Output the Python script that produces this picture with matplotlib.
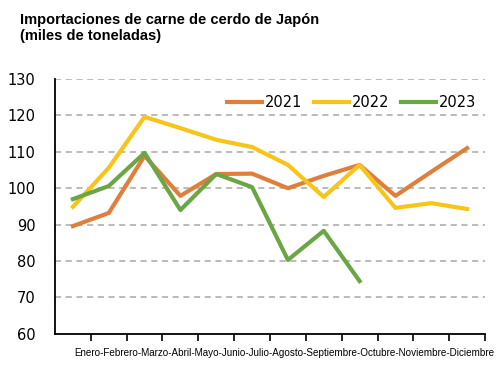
import matplotlib
matplotlib.use("Agg")
import matplotlib.pyplot as plt
import numpy as np

# month names, joined into one label under the axis
months = ["Enero", "Febrero", "Marzo", "Abril", "Mayo", "Junio", "Julio",
          "Agosto", "Septiembre", "Octubre", "Noviembre", "Diciembre"]

# imports, thousand tonnes
y2021 = [89.6, 93.2, 108.9, 97.9, 103.9, 104.0, 100.0, 103.4, 106.4, 97.9, 104.5, 111.0]
y2022 = [94.9, 105.6, 119.6, 116.5, 113.3, 111.3, 106.4, 97.6, 106.4, 94.6, 95.9, 94.3]
y2023 = [97.0, 100.6, 109.7, 94.0, 103.9, 100.3, 80.3, 88.3, 74.5]

yticks = [60, 70, 80, 90, 100, 110, 120, 130]

fig = plt.figure(figsize=(5, 3.76), dpi=100)
ax = fig.add_axes([0.11, 0.112, 0.86, 0.678])

x = np.arange(len(months))
ax.plot(x, y2021, color="#E07E3C", lw=3, label="2021")
ax.plot(x, y2022, color="#F7C41A", lw=3, label="2022")
ax.plot(np.arange(len(y2023)), y2023, color="#6BA644", lw=3, label="2023")

ax.set_xlim(-0.5, 11.5)
ax.set_ylim(60, 130)
ax.set_yticks(yticks)
ax.set_yticklabels([str(t) for t in yticks], fontsize=10.5)
ax.set_xticks(np.arange(0.5, 12, 1))
ax.set_xticklabels([])
ax.tick_params(axis="x", length=5, width=1.2, direction="out")
ax.tick_params(axis="y", length=0, pad=14)

for t in yticks[1:]:
    ax.axhline(t, color="#a8a8a8", lw=1.1, ls=(0, (4, 3)), zorder=0)

for s in ["top", "right"]:
    ax.spines[s].set_visible(False)
ax.spines["left"].set_linewidth(1.3)
ax.spines["bottom"].set_linewidth(1.3)

ax.text(0.533, -0.075, "-".join(months), transform=ax.transAxes, ha="center",
        va="center", fontsize=7.1, family="Liberation Sans")

ax.legend(loc="center", bbox_to_anchor=(0.69, 0.906), ncol=3, frameon=False,
          handlelength=2.4, columnspacing=0.8, handletextpad=0.2,
          prop={"size": 10.5})

fig.text(0.04, 0.965, "Importaciones de carne de cerdo de Japón\n(miles de toneladas)",
         fontsize=10.5, fontweight="bold", family="Liberation Sans", va="top",
         linespacing=1.15)

fig.savefig("out.png", dpi=100)
